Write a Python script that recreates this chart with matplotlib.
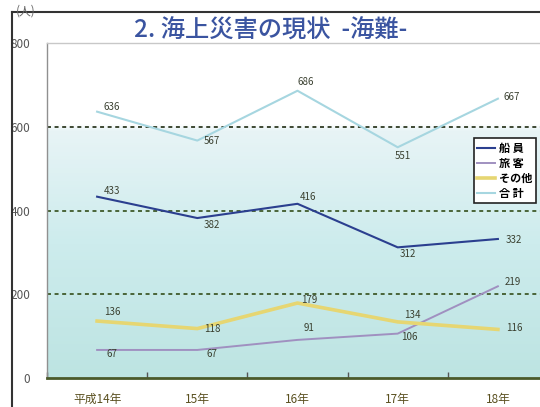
import matplotlib
matplotlib.use("Agg")
import matplotlib.pyplot as plt
import numpy as np
from matplotlib.colors import LinearSegmentedColormap
from matplotlib.lines import Line2D

plt.rcParams['font.family'] = ['Noto Sans CJK JP', 'DejaVu Sans']

# ---- data ----
years = ['平成14年', '15年', '16年', '17年', '18年']
crew = [433, 382, 416, 312, 332]          # 船員
passengers = [67, 67, 91, 106, 219]       # 旅客
others = [136, 118, 179, 134, 116]        # その他
total = [636, 567, 686, 551, 667]         # 合計
y_ticks = [0, 200, 400, 600, 800]
series_names = ['船 員', '旅 客', 'その他', '合 計']
title = '2. 海上災害の現状  -海難-'
unit = '(人)'

# ---- style ----
colors = ['#2b3f8f', '#a090c0', '#e6d672', '#a6d6e0']
widths = [1.5, 1.4, 2.6, 1.5]
offsets = [
    [(15, 6), (15, -7), (10, 7), (10, -7), (16, -1)],
    [(15, -4), (15, -4), (12, 12), (12, -3), (15, 4)],
    [(15, 9), (15, 0), (12, 3), (15, 7), (16, 1)],
    [(15, 5), (15, 0), (8, 9), (5, -9), (14, 2)],
]

W, H = 540, 407
fig = plt.figure(figsize=(W / 100, H / 100), dpi=100)
fig.patch.set_facecolor('white')

left_px, right_px, top_px, bot_px = 47, 548, 43, 378
ax = fig.add_axes([left_px / W, 1 - bot_px / H, (right_px - left_px) / W, (bot_px - top_px) / H])
ax.set_xlim(-0.5, len(years) - 0.5)
ax.set_ylim(0, 800)

# gradient background
cmap = LinearSegmentedColormap.from_list(
    'bg', [(0.0, '#bde4e2'), (0.4, '#cdeced'), (0.74, '#e8f4f6'), (0.76, '#ffffff'), (1.0, '#ffffff')])
grad = np.linspace(0, 1, 400).reshape(-1, 1)
ax.imshow(grad, cmap=cmap, aspect='auto', extent=[-0.5, len(years) - 0.5, 0, 800],
          origin='lower', zorder=0)

# grid lines
for yv in y_ticks[1:-1]:
    ax.axhline(yv, color='#2f3a22' if yv == 600 else '#3f5a2a', lw=1.3,
               linestyle=(0, (2.2, 2.0)), zorder=1)

x = np.arange(len(years))
all_series = [crew, passengers, others, total]
handles = []
for s, c, lw, offs, name in zip(all_series, colors, widths, offsets, series_names):
    h, = ax.plot(x, s, color=c, lw=lw, zorder=3, label=name)
    handles.append(h)
    for xi, v, (dx, dy) in zip(x, s, offs):
        ax.annotate(str(v), (xi, v), xytext=(dx, dy), textcoords='offset pixels',
                    ha='center', va='center', fontsize=7, color='#3a4030', zorder=4)

# axes styling
ax.set_yticks(y_ticks)
ax.set_yticklabels([str(t) for t in y_ticks], fontsize=8.5, color='#555555')
ax.tick_params(axis='y', length=0, pad=12)
ax.set_xticks(x)
ax.set_xticklabels(years, fontsize=8.5, color='#5a5020')
ax.tick_params(axis='x', length=0, pad=11)
ax.set_xticks(np.arange(-0.5, len(years) + 0.5, 1), minor=True)
ax.tick_params(axis='x', which='minor', direction='in', length=4, color='#555555', width=1)

ax.spines['right'].set_visible(False)
ax.spines['top'].set_color('#c8c8c8')
ax.spines['top'].set_linewidth(1)
ax.spines['left'].set_color('#909090')
ax.spines['left'].set_linewidth(1)
ax.spines['bottom'].set_color('#4a5a2a')
ax.spines['bottom'].set_linewidth(2)

# legend
leg = ax.legend(handles=handles, loc='upper left', bbox_to_anchor=(0.852, 0.716),
                frameon=True, fancybox=False, fontsize=8, handlelength=1.6,
                handletextpad=0.35, borderpad=0.3, labelspacing=0.2, borderaxespad=0)
leg.get_frame().set_edgecolor('#222222')
leg.get_frame().set_linewidth(1.2)
leg.get_frame().set_facecolor('white')
leg.get_frame().set_alpha(1)
for t in leg.get_texts():
    t.set_fontweight('bold')

# outer frame lines
fig.add_artist(Line2D([12 / W, 12 / W], [0, 1 - 12 / H], color='#333333', lw=1.5))
fig.add_artist(Line2D([12 / W, 1], [1 - 12 / H, 1 - 12 / H], color='#333333', lw=1.5))

# title and unit
fig.text(271 / W, 1 - 31 / H, title, ha='center', va='center', fontsize=17.5,
         color='#3a54a0', fontweight='medium')
fig.text(26 / W, 1 - 11 / H, unit, ha='center', va='center', fontsize=8.5, color='#666666')

fig.savefig('out.png', dpi=100, facecolor='white')
